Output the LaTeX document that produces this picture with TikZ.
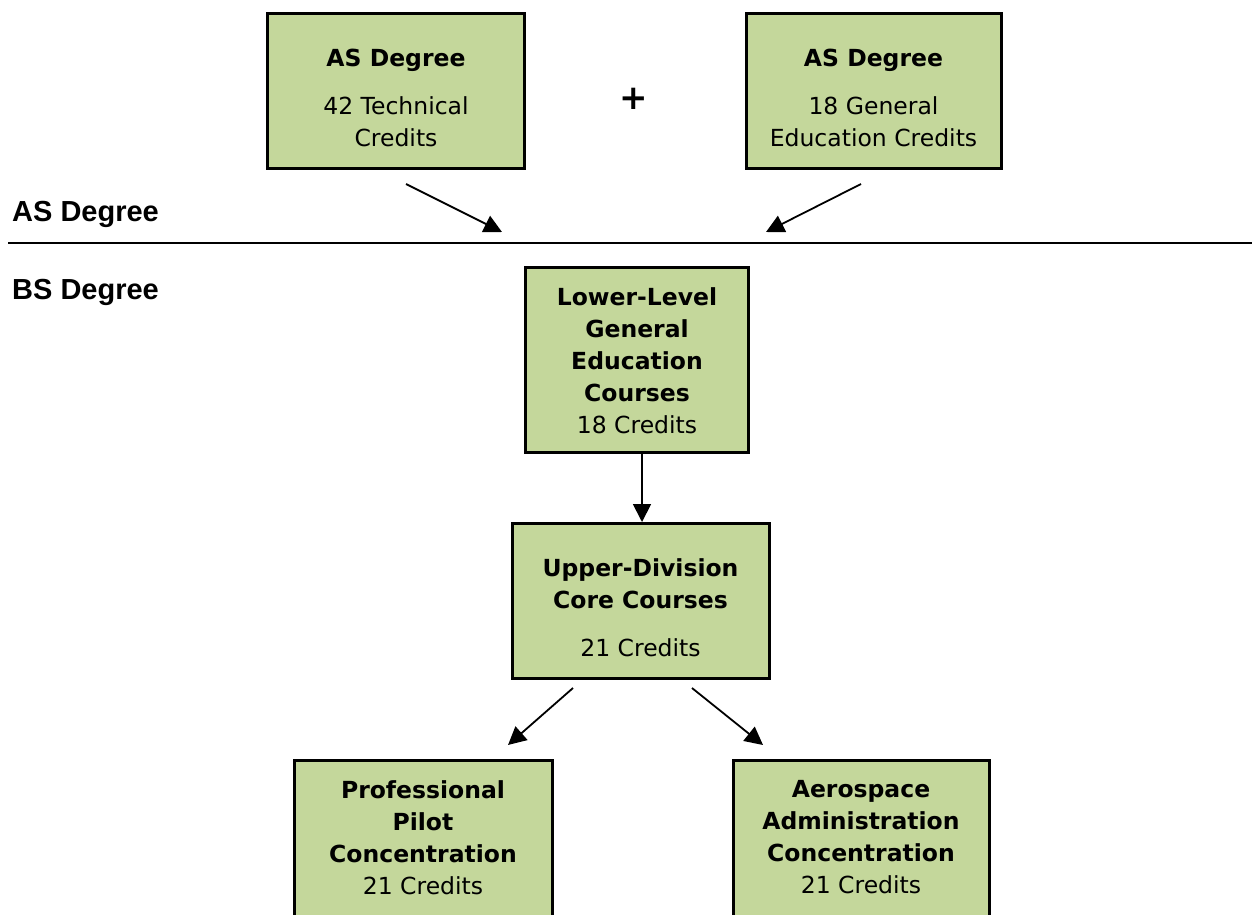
\documentclass[tikz,border=0pt]{standalone}
\usepackage{fontspec}
\newfontfamily\boxfont{DejaVu Sans}
\newfontfamily\lblfont{Liberation Sans}
\usetikzlibrary{arrows.meta}
\definecolor{boxgreen}{HTML}{C4D79B}
\tikzset{
  box/.style={draw=black, line width=3pt, fill=boxgreen, inner sep=0pt},
  txt/.style={align=center, inner sep=0pt, font=\boxfont\fontsize{23.5}{32}\selectfont},
  lbl/.style={anchor=west, inner sep=0pt, font=\lblfont\bfseries\fontsize{29}{32}\selectfont},
  arr/.style={line width=1.8pt, -{Triangle[length=18pt,width=18pt]}}
}
\begin{document}
\begin{tikzpicture}[x=1pt,y=-1pt]
\clip (0,0) rectangle (1252,914);
\fill[white] (0,0) rectangle (1252,914);
% boxes
\node[box, minimum width=257pt, minimum height=155pt] (b1) at (396,90.5) {};
\node[box, minimum width=255pt, minimum height=155pt] (b2) at (873.5,90.5) {};
\node[box, minimum width=223pt, minimum height=185pt] (b3) at (637,359.5) {};
\node[box, minimum width=257pt, minimum height=155pt] (b4) at (640.5,600.5) {};
\node[box, minimum width=258pt, minimum height=200pt] (b5) at (423,860) {};
\node[box, minimum width=256pt, minimum height=200pt] (b6) at (861,860) {};
% texts
\node[txt] (t1) at (396,98) {\textbf{AS Degree}\\[16pt]42 Technical\\Credits};
\node[txt] (t2) at (873.5,98) {\textbf{AS Degree}\\[16pt]18 General\\Education Credits};
\node[txt] (t3) at (637,360.5) {\textbf{Lower-Level}\\\textbf{General}\\\textbf{Education}\\\textbf{Courses}\\18 Credits};
\node[txt] (t4) at (640.5,608) {\textbf{Upper-Division}\\\textbf{Core Courses}\\[16pt]21 Credits};
\node[txt] (t5) at (423,837.5) {\textbf{Professional}\\\textbf{Pilot}\\\textbf{Concentration}\\21 Credits};
\node[txt] (t6) at (861,837.5) {\textbf{Aerospace}\\\textbf{Administration}\\\textbf{Concentration}\\21 Credits};
% plus
\node[inner sep=0pt, font=\boxfont\bfseries\fontsize{34}{34}\selectfont] (plus) at (634,99) {+};
% side labels
\node[lbl] (las) at (12,214) {AS Degree};
\node[lbl] (lbs) at (12,292) {BS Degree};
% divider
\coordinate (dl) at (8,243);
\coordinate (dr) at (1252,243);
\draw[line width=2.5pt] (dl) -- (dr);
% arrows
\coordinate (a1s) at (406,184);
\coordinate (a1e) at (502,232);
\coordinate (a2s) at (861,184);
\coordinate (a2e) at (766,232);
\draw[arr] (a1s) -- (a1e);
\draw[arr] (a2s) -- (a2e);
\coordinate (a3s) at (642,452);
\coordinate (a3e) at (642,522);
\draw[arr] (a3s) -- (a3e);
\coordinate (a4s) at (573,688);
\coordinate (a4e) at (508,745);
\coordinate (a5s) at (692,688);
\coordinate (a5e) at (763,745);
\draw[arr] (a4s) -- (a4e);
\draw[arr] (a5s) -- (a5e);
\end{tikzpicture}
\end{document}
